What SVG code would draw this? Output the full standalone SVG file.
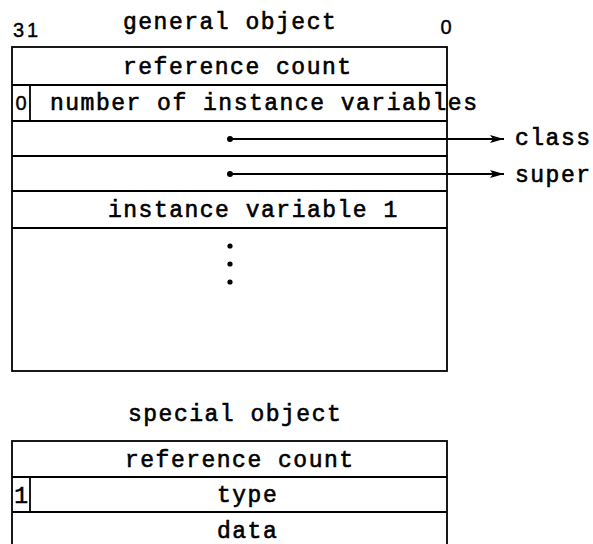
<svg xmlns="http://www.w3.org/2000/svg" width="593" height="544" viewBox="0 0 593 544">
  <style>
    .box { fill: none; stroke: #000; stroke-width: 1.8; }
    .rule { stroke: #000; stroke-width: 1.8; }
    .tt { font-family: "Liberation Mono", "DejaVu Sans Mono", monospace; font-size: 23px; letter-spacing: 1.5px; fill: #000; stroke: #000; stroke-width: 0.6; }
    .num { font-family: "Liberation Sans", Arial, sans-serif; font-size: 20px; fill: #000; stroke: #000; stroke-width: 0.4; }
    .ptr { stroke: #000; stroke-width: 1.8; fill: none; }
  </style>
  <defs>
    <marker id="head" viewBox="0 0 14 8" refX="14" refY="4" markerWidth="14" markerHeight="8" markerUnits="userSpaceOnUse" orient="auto">
      <path d="M0,0 L14,4 L0,8 L3,4 Z" fill="#000"/>
    </marker>
  </defs>
  <rect width="593" height="544" fill="#fff"/>

  <!-- general object layout -->
  <g id="general-object">
    <text class="tt" x="123" y="29">general object</text>
    <text class="num" x="13" y="37" letter-spacing="3">31</text>
    <text class="num" x="446" y="34" text-anchor="middle">0</text>
    <rect class="box" x="12" y="47" width="435" height="324"/>
    <line class="rule" x1="12" y1="85" x2="447" y2="85"/>
    <line class="rule" x1="12" y1="121" x2="447" y2="121"/>
    <line class="rule" x1="12" y1="156" x2="447" y2="156"/>
    <line class="rule" x1="12" y1="191" x2="447" y2="191"/>
    <line class="rule" x1="12" y1="228" x2="447" y2="228"/>
    <line class="rule" x1="30" y1="85" x2="30" y2="121"/>
  </g>
  <g id="gen-refcount"><text class="tt" x="123" y="74">reference count</text></g>
  <g id="gen-flag"><text class="num" x="21" y="110" text-anchor="middle" font-size="19">0</text></g>
  <g id="gen-ivcount"><text class="tt" x="50" y="110">number of instance variables</text></g>
  <g id="gen-ivar1"><text class="tt" x="108" y="217">instance variable 1</text></g>
  <g id="gen-more">
    <circle cx="230" cy="246" r="2.6"/>
    <circle cx="230" cy="264" r="2.6"/>
    <circle cx="230" cy="282" r="2.6"/>
  </g>
  <g id="class"><text class="tt" x="515" y="145">class</text></g>
  <g id="super"><text class="tt" x="515" y="182">super</text></g>

  <!-- pointer fields -->
  <g id="connectors">
    <circle cx="230" cy="139" r="3"/>
    <line class="ptr" x1="230" y1="139" x2="504" y2="139" marker-end="url(#head)"/>
    <circle cx="230" cy="174" r="3"/>
    <line class="ptr" x1="230" y1="174" x2="504" y2="174" marker-end="url(#head)"/>
  </g>

  <!-- special object layout -->
  <g id="special-object">
    <text class="tt" x="128" y="421">special object</text>
    <rect class="box" x="12" y="441" width="435" height="120"/>
    <line class="rule" x1="12" y1="477" x2="447" y2="477"/>
    <line class="rule" x1="12" y1="512" x2="447" y2="512"/>
    <line class="rule" x1="30" y1="477" x2="30" y2="512"/>
  </g>
  <g id="spc-refcount"><text class="tt" x="125" y="467">reference count</text></g>
  <g id="spc-flag"><text class="tt" x="22" y="503" text-anchor="middle" letter-spacing="0">1</text></g>
  <g id="spc-type"><text class="tt" x="217" y="502">type</text></g>
  <g id="spc-data"><text class="tt" x="217" y="538">data</text></g>
</svg>
